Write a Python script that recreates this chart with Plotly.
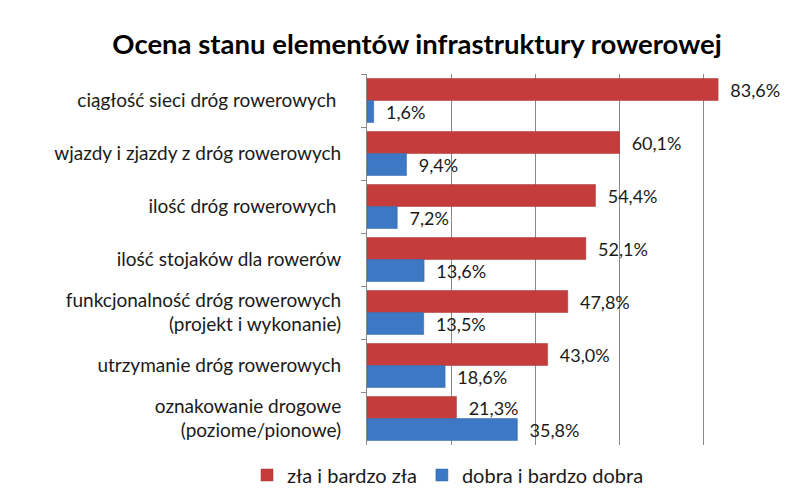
import plotly.graph_objects as go

categories = [
    "ciągłość sieci dróg rowerowych ",
    "wjazdy i zjazdy z dróg rowerowych",
    "ilość dróg rowerowych ",
    "ilość stojaków dla rowerów",
    "funkcjonalność dróg rowerowych<br>(projekt i wykonanie)",
    "utrzymanie dróg rowerowych",
    "oznakowanie drogowe<br>(poziome/pionowe)",
]
bad = [83.6, 60.1, 54.4, 52.1, 47.8, 43.0, 21.3]
good = [1.6, 9.4, 7.2, 13.6, 13.5, 18.6, 35.8]
series_names = ["zła i bardzo zła", "dobra i bardzo dobra"]

FONT = "Lato, 'Open Sans', sans-serif"

def fmt(v):
    return "\u00a0\u00a0" + f"{v:.1f}".replace(".", ",") + "%"

fig = go.Figure()
fig.add_trace(go.Bar(
    y=categories, x=bad, orientation="h", name=series_names[0],
    marker=dict(color="#C53C3C", line=dict(color="#A83030", width=0.5)),
    text=[fmt(v) for v in bad], textposition="outside",
    textfont=dict(size=18, color="#1a1a1a", family=FONT), cliponaxis=False,
))
fig.add_trace(go.Bar(
    y=categories, x=good, orientation="h", name=series_names[1],
    marker=dict(color="#3C78C4", line=dict(color="#2F62A5", width=0.5)),
    text=[fmt(v) for v in good], textposition="outside",
    textfont=dict(size=18, color="#1a1a1a", family=FONT), cliponaxis=False,
))

fig.update_layout(
    width=800, height=499,
    margin=dict(l=367, r=13, t=74, b=54, autoexpand=False),
    paper_bgcolor="white", plot_bgcolor="white",
    barmode="group", bargap=0.17, bargroupgap=0,
    title=dict(text="<b>Ocena stanu elementów infrastruktury rowerowej</b>",
               x=417/800, xanchor="center", y=1-44/499, yanchor="middle",
               font=dict(size=27.5, color="black", family=FONT)),
    legend=dict(orientation="h", xref="container", x=448/800, xanchor="center",
                yref="container", y=1-475/499, yanchor="middle",
                font=dict(size=20, color="#1a1a1a", family=FONT), traceorder="normal"),
    font=dict(family=FONT),
)
fig.update_xaxes(range=[0, 100], dtick=20, showticklabels=False,
                 showgrid=True, gridcolor="#8A8A8A", gridwidth=1, zeroline=False,
                 showline=False)
fig.update_yaxes(autorange="reversed", showline=True, linecolor="#8A8A8A", linewidth=1,
                 ticks="outside", ticklen=5, tickcolor="#8A8A8A", tickson="boundaries",
                 tickfont=dict(size=19, color="#1a1a1a", family=FONT),
                 ticklabelstandoff=21, showgrid=False, automargin=False)

fig.write_html("out.html")
